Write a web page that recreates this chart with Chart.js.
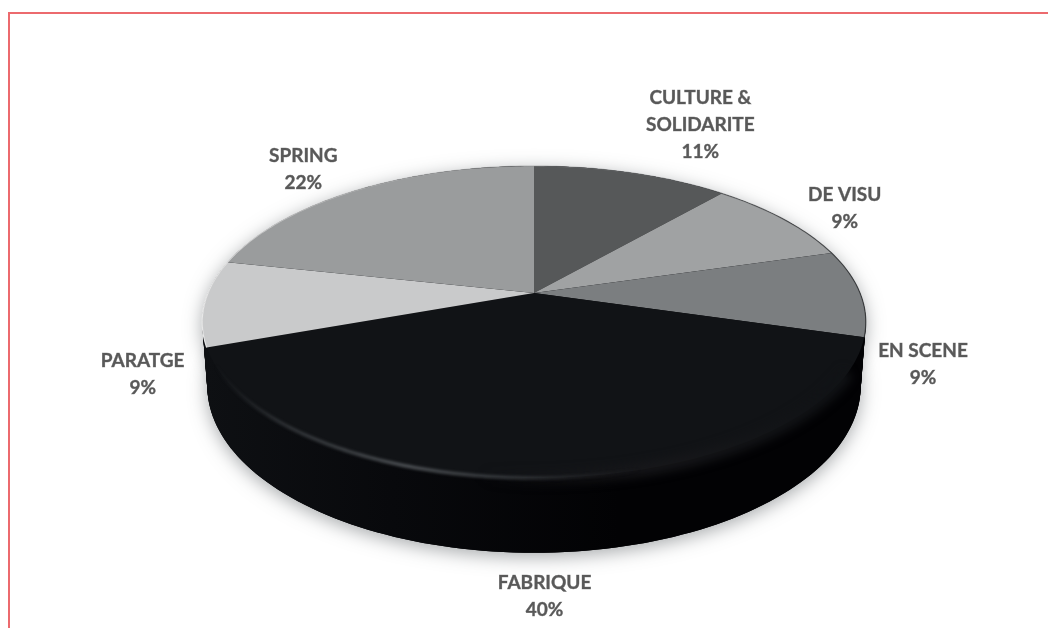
<!DOCTYPE html>
<html>
<head>
<meta charset="utf-8">
<script src="https://cdn.jsdelivr.net/npm/chart.js@4"></script>
<style>
  html, body { margin: 0; padding: 0; background: #fff; overflow: hidden; }
  #wrap { position: relative; width: 1048px; height: 628px; }
  #frameTop { position: absolute; left: 8px; right: 0; top: 12px; height: 2px; background: #ec6a6e; }
  #frameLeft { position: absolute; left: 8px; top: 12px; bottom: 0; width: 2px; background: #ec6a6e; }
</style>
</head>
<body>
<div id="wrap">
  <canvas id="pieChart" width="1048" height="628"></canvas>
  <div id="frameTop"></div>
  <div id="frameLeft"></div>
</div>
<script>
// Donnees
const categories = [['CULTURE &', 'SOLIDARITE'], ['DE VISU'], ['EN SCENE'], ['FABRIQUE'], ['PARATGE'], ['SPRING']];
const shares = [11.4, 9.1, 9.0, 40.0, 8.9, 21.6];
const sliceColors = ['#565859', '#a0a2a3', '#7b7e80', '#111316', '#c9cacb', '#9a9c9d'];

// Perspective du disque
const CX = 534, CY = 293, RX = 326, RY = 150.6, TILT = 0.186;
const DEPTH = 62, BOTTOM_RX = 321, BOTTOM_RY = 161;

// Decalage de chaque etiquette depuis le bord de sa part
const labelNudges = [[69, -48], [61, -11], [63, 71], [-2, 118], [-62, 71], [-52, -21]];

function project(angle, t) {
    const u = Math.cos(angle), v = Math.sin(angle), w = 1 - TILT * v;
    const rx = RX + (BOTTOM_RX - RX) * t, ry = RY + (BOTTOM_RY - RY) * t;
    return [CX + rx * u / w, CY + DEPTH * t + ry * v / w];
}

function traceDisc(ctx, t) {
    ctx.beginPath();
    for (let i = 0; i <= 240; i++) {
        const p = project(i / 240 * Math.PI * 2, t);
        i ? ctx.lineTo(p[0], p[1]) : ctx.moveTo(p[0], p[1]);
    }
    ctx.closePath();
}

function traceRim(ctx, from, to) {
    ctx.beginPath();
    for (let i = 0; i <= 200; i++) {
        const p = project(from + (to - from) * i / 200, 0);
        i ? ctx.lineTo(p[0], p[1]) : ctx.moveTo(p[0], p[1]);
    }
}

const perspectivePie = {
    id: 'perspectivePie',
    beforeDatasetDraw(chart, args) {
        const ctx = chart.ctx;
        const arcs = args.meta.data;

        // ombre portee sous le disque
        ctx.save();
        ctx.shadowColor = 'rgba(80,85,90,0.5)';
        ctx.shadowBlur = 18;
        ctx.shadowOffsetY = 4;
        ctx.fillStyle = '#030305';
        traceDisc(ctx, 1);
        ctx.fill();
        traceDisc(ctx, 0);
        ctx.fill();
        ctx.restore();

        // flanc
        const side = ctx.createLinearGradient(205, 0, 620, 0);
        side.addColorStop(0, '#0e1013');
        side.addColorStop(0.45, '#08090c');
        side.addColorStop(1, '#020204');
        ctx.fillStyle = side;
        for (let s = 40; s >= 0; s--) {
            traceDisc(ctx, s / 40);
            ctx.fill();
        }

        // parts du dessus, angles donnes par Chart.js
        arcs.forEach(arc => {
            const props = arc.getProps(['startAngle', 'endAngle']);
            const steps = Math.ceil((props.endAngle - props.startAngle) * 60);
            ctx.beginPath();
            ctx.moveTo(CX, CY);
            for (let i = 0; i <= steps; i++) {
                const a = props.startAngle + (props.endAngle - props.startAngle) * i / steps;
                const p = project(a, 0);
                ctx.lineTo(p[0], p[1]);
            }
            ctx.closePath();
            ctx.fillStyle = arc.options.backgroundColor;
            ctx.fill();
        });

        // passage doux face / flanc a droite, dans la silhouette
        const big = arcs[3].getProps(['startAngle', 'endAngle']);
        ctx.save();
        ctx.beginPath();
        ctx.rect(0, 0, 1048, 628);
        traceDisc(ctx, 1);
        ctx.clip('nonzero');
        const soft = ctx.createLinearGradient(480, 0, 820, 0);
        soft.addColorStop(0, 'rgba(24,24,27,0)');
        soft.addColorStop(0.5, 'rgba(24,24,27,0.9)');
        soft.addColorStop(1, 'rgba(17,19,22,1)');
        ctx.filter = 'blur(5px)';
        ctx.strokeStyle = soft;
        ctx.lineWidth = 13;
        traceRim(ctx, big.startAngle + 0.22, big.startAngle + 1.75);
        ctx.stroke();
        ctx.restore();

        // reflet du chanfrein sur la grande part
        const glow = ctx.createLinearGradient(215, 0, 640, 0);
        glow.addColorStop(0, 'rgba(70,74,78,0)');
        glow.addColorStop(0.18, 'rgba(70,74,78,0.7)');
        glow.addColorStop(0.45, 'rgba(86,90,94,1)');
        glow.addColorStop(0.72, 'rgba(70,74,78,0.7)');
        glow.addColorStop(1, 'rgba(50,50,52,0)');
        ctx.save();
        ctx.filter = 'blur(1.4px)';
        ctx.strokeStyle = glow;
        ctx.lineWidth = 3;
        traceRim(ctx, big.startAngle, big.endAngle);
        ctx.stroke();
        ctx.restore();

        // liseré du bord arriere : clair a gauche, sombre a droite
        const edge = ctx.createLinearGradient(200, 0, 866, 0);
        edge.addColorStop(0, 'rgba(238,238,238,0.95)');
        edge.addColorStop(0.12, 'rgba(225,225,225,0.7)');
        edge.addColorStop(0.5, 'rgba(130,132,134,0.45)');
        edge.addColorStop(1, 'rgba(50,52,54,0.8)');
        ctx.strokeStyle = edge;
        ctx.lineWidth = 1.2;
        traceRim(ctx, big.endAngle, big.startAngle + Math.PI * 2);
        ctx.stroke();

        // etiquettes
        ctx.fillStyle = '#595959';
        ctx.strokeStyle = 'rgba(89,89,89,0.7)';
        ctx.lineWidth = 0.5;
        ctx.font = 'bold 19px Lato, "Open Sans", sans-serif';
        ctx.textAlign = 'center';
        ctx.textBaseline = 'middle';
        arcs.forEach((arc, idx) => {
            const props = arc.getProps(['startAngle', 'endAngle']);
            const rim = project((props.startAngle + props.endAngle) / 2, 0);
            const lines = categories[idx].concat(Math.round(shares[idx]) + '%');
            const x = rim[0] + labelNudges[idx][0];
            const y = rim[1] + labelNudges[idx][1];
            lines.forEach((line, n) => {
                const ly = y + (n - (lines.length - 1) / 2) * 27;
                ctx.fillText(line, x, ly);
                ctx.strokeText(line, x, ly);
            });
        });
        return false;
    }
};

new Chart(document.getElementById('pieChart'), {
    type: 'pie',
    data: {
        labels: categories.map(c => c.join(' ')),
        datasets: [{ data: shares, backgroundColor: sliceColors, borderWidth: 0 }]
    },
    options: {
        responsive: false,
        animation: false,
        events: [],
        plugins: { legend: { display: false }, tooltip: { enabled: false } }
    },
    plugins: [perspectivePie]
});
</script>
</body>
</html>
